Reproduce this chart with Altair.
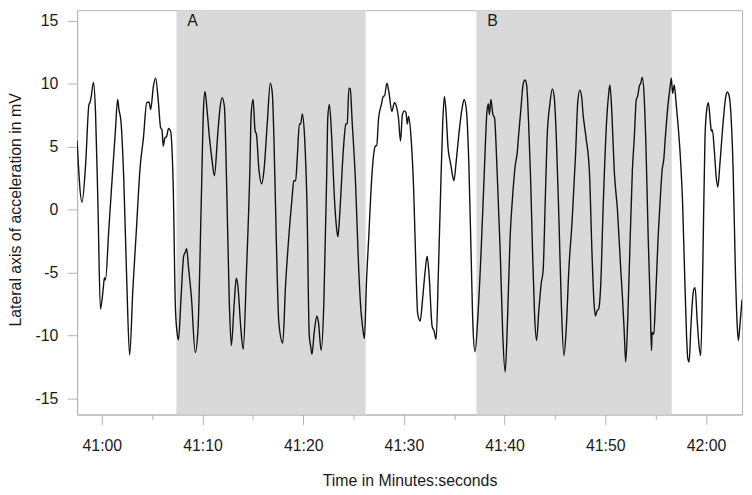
import altair as alt
import pandas as pd

# seconds after 41:00, and lateral acceleration in mV
time_s = [
    -2.46, -1.97, -1.61, -1.28, -1.18, -1.05, -0.83, -0.63, -0.39, -0.14,
    0.13, 0.26, 0.36, 0.69, 1.01, 1.34, 1.57, 1.70, 1.90, 2.17,
    2.49, 2.76, 3.08, 3.41, 3.80, 4.13, 4.46, 4.69, 4.85, 5.12,
    5.34, 5.61, 5.84, 5.97, 6.10, 6.26, 6.43, 6.62, 6.82, 7.09,
    7.31, 7.51, 7.61, 7.87, 8.13, 8.33, 8.42, 8.62, 8.89, 9.28,
    9.55, 9.87, 10.10, 10.24, 10.43, 10.69, 10.95, 11.18, 11.51, 11.74,
    11.94, 12.17, 12.40, 12.66, 12.86, 13.15, 13.35, 13.51, 13.81, 14.04,
    14.37, 14.70, 14.83, 15.02, 15.22, 15.35, 15.61, 15.88, 16.10, 16.44,
    16.73, 16.93, 17.09, 17.32, 17.58, 17.97, 18.24, 18.57, 18.90, 19.06,
    19.25, 19.40, 19.62, 19.75, 19.91, 20.14, 20.37, 20.60, 20.73, 20.87,
    21.09, 21.36, 21.52, 21.78, 22.05, 22.34, 22.44, 22.60, 22.83, 23.09,
    23.33, 23.45, 23.65, 23.98, 24.24, 24.37, 24.54, 24.67, 24.86, 25.20,
    25.46, 25.72, 25.89, 26.08, 26.28, 26.51, 26.77, 27.00, 27.17, 27.30,
    27.49, 27.76, 27.95, 28.08, 28.31, 28.50, 28.80, 29.06, 29.26, 29.46,
    29.66, 29.85, 30.05, 30.21, 30.34, 30.47, 30.71, 30.96, 31.20, 31.36,
    31.62, 31.85, 32.09, 32.31, 32.51, 32.80, 33.00, 33.20, 33.43, 33.66,
    33.86, 34.02, 34.18, 34.38, 34.65, 34.80, 34.97, 35.20, 35.46, 35.79,
    35.98, 36.22, 36.45, 36.67, 36.87, 37.07, 37.33, 37.66, 37.99, 38.25,
    38.39, 38.49, 38.64, 38.84, 39.00, 39.23, 39.57, 39.82, 40.06, 40.29,
    40.55, 40.81, 41.04, 41.27, 41.37, 41.60, 41.86, 42.03, 42.19, 42.38,
    42.58, 42.78, 42.97, 43.17, 43.41, 43.64, 43.83, 44.03, 44.22, 44.49,
    44.74, 44.94, 45.14, 45.40, 45.63, 45.89, 46.12, 46.38, 46.71, 47.05,
    47.27, 47.47, 47.67, 47.77, 48.09, 48.42, 48.68, 48.88, 49.02, 49.17,
    49.34, 49.54, 49.80, 50.13, 50.33, 50.46, 50.66, 50.89, 51.21, 51.54,
    51.70, 51.87, 52.03, 52.23, 52.43, 52.69, 52.88, 53.08, 53.21, 53.41,
    53.51, 53.67, 53.87, 54.06, 54.26, 54.46, 54.59, 54.65, 54.82, 54.98,
    55.25, 55.47, 55.64, 55.81, 55.96, 56.23, 56.46, 56.56, 56.69, 56.85,
    57.02, 57.22, 57.44, 57.68, 57.87, 58.07, 58.20, 58.33, 58.49, 58.69,
    58.79, 58.92, 59.12, 59.31, 59.48, 59.68, 59.90, 60.10, 60.24, 60.43,
    60.53, 60.63, 60.83, 61.02, 61.18, 61.38, 61.71, 61.94, 62.11, 62.27,
    62.46, 62.70, 62.92, 63.09, 63.22, 63.39, 63.58,
]
accel_mv = [
    5.5, 0.6, 3.6, 8.35, 8.5, 9.0, 10.1, 7.8, 0.5, -7.9,
    -6.35, -5.4, -5.6, -1.6, 2.3, 6.2, 8.75, 7.95, 7.0, 2.6,
    -6.1, -11.55, -6.35, -1.9, 3.35, 5.7, 8.5, 8.55, 7.95, 9.8,
    10.45, 8.6, 6.5, 6.35, 5.05, 5.7, 5.8, 6.45, 6.25, 1.8,
    -7.9, -10.0, -10.35, -6.9, -3.7, -3.3, -3.1, -4.7, -6.9, -11.35,
    -9.5, 0.47, 8.1, 9.4, 8.1, 5.7, 3.9, 2.7, 6.0, 8.1,
    8.9, 8.2, 1.8, -7.4, -10.8, -7.4, -5.45, -6.05, -9.5, -11.1,
    -4.8, 3.1, 7.55, 8.75, 6.25, 6.0, 3.1, 2.05, 3.1, 7.0,
    10.05, 9.25, 5.7, -2.15, -9.0, -10.6, -6.1, -2.15, 1.0, 2.3,
    2.3, 4.0, 6.8, 6.8, 7.6, 5.7, 0.5, -10.0, -10.8, -11.5,
    -9.75, -8.45, -9.0, -11.2, -7.4, 3.1, 7.3, 8.35, 5.7, 1.0,
    -1.6, -2.15, -0.05, 4.7, 6.8, 6.85, 9.65, 9.6, 7.0, 2.05,
    -3.7, -7.9, -9.25, -10.25, -5.8, -2.15, 2.05, 4.4, 5.05, 5.1,
    7.3, 8.35, 9.0, 9.05, 10.05, 9.4, 7.8, 8.5, 8.2, 7.3,
    5.45, 7.55, 7.85, 7.7, 6.8, 7.4, 5.7, 1.8, -4.8, -8.2,
    -8.85, -7.15, -5.05, -3.7, -5.3, -9.25, -9.65, -10.3, -4.8, 1.8,
    7.0, 9.0, 7.8, 4.95, 3.6, 2.85, 2.3, 3.9, 6.0, 8.1,
    8.75, 7.8, 3.6, -3.45, -9.5, -11.3, -8.7, -3.45, 3.1, 7.8,
    8.4, 7.55, 8.75, 7.55, 7.3, 3.6, -3.45, -10.0, -12.9, -8.7,
    -2.15, 1.2, 3.4, 4.65, 5.7, 7.8, 10.05, 10.3, 9.9, 7.0,
    2.55, -3.45, -8.2, -10.4, -7.9, -5.85, -4.8, 0.47, 5.7, 8.35,
    9.6, 8.85, 5.7, -0.85, -7.4, -11.6, -9.5, -4.8, -0.85, 4.4,
    8.6, 9.5, 8.85, 7.8, 5.7, 3.1, -3.45, -7.4, -8.45, -8.05,
    -7.9, -6.1, 0.47, 7.0, 9.15, 9.9, 7.55, 3.1, -0.05, -4.8,
    -6.9, -9.5, -12.1, -8.7, -3.45, 3.1, 5.7, 8.75, 9.0, 9.9,
    10.0, 10.5, 8.85, 4.4, -2.15, -7.4, -11.2, -9.75, -9.9, -7.4,
    -2.15, 1.0, 3.1, 4.0, 5.7, 8.35, 9.9, 10.45, 9.25, 9.9,
    8.6, 6.8, 4.4, 0.47, -4.8, -10.0, -11.85, -12.1, -9.5, -6.9,
    -6.35, -6.2, -8.7, -10.8, -11.6, -4.8, 5.7, 8.1, 8.5, 7.0,
    6.25, 6.35, 4.7, 2.55, 1.8, 3.6, 7.0, 8.85, 9.35, 9.15,
    7.8, 3.1, -4.8, -9.0, -10.4, -9.0, -7.15,
]

region_label = ["A", "B"]
region_start = [7.41, 37.2]
region_end = [26.2, 56.6]
label_time = [9.0, 38.8]
label_value = [15.0, 15.0]

x_ticks = [0, 5, 10, 15, 20, 25, 30, 35, 40, 45, 50, 55, 60]
y_ticks = [-15, -10, -5, 0, 5, 10, 15]
x_domain = [-2.46, 63.58]
y_domain = [-16.28, 15.85]

FONT = "Liberation Sans"
GRAY = "#b4b4b4"
TEXT = "#1a1a1a"

line_df = pd.DataFrame({"t": time_s, "v": accel_mv})
regions_df = pd.DataFrame({"start": region_start, "end": region_end})
labels_df = pd.DataFrame({"t": label_time, "v": label_value, "label": region_label})

x_scale = alt.Scale(domain=x_domain, nice=False, zero=False)
y_scale = alt.Scale(domain=y_domain, nice=False, zero=False)

x_axis = alt.Axis(
    values=x_ticks,
    title="Time in Minutes:seconds",
    labelExpr="datum.value % 10 == 0 ? ((datum.value >= 60 ? '42:' : '41:') + format(datum.value % 60, '02d')) : ''",
    tickSize={"condition": {"test": "datum.value % 10 == 0", "value": 10}, "value": 5},
    labelPadding=13.5,
    titleY=72,
    titleBaseline="alphabetic",
    labelFlush=False,
    labelOverlap=False,
)
y_axis = alt.Axis(
    values=y_ticks,
    title="Lateral axis of acceleration in mV",
    labelExpr="'' + datum.value",
    tickSize=10,
    labelPadding=9.4,
    labelAngle=0,
    titleAngle=270,
    titleX=-57.5,
    titleY=201,
    titleBaseline="alphabetic",
    labelFlush=False,
    labelOverlap=False,
)

shade = alt.Chart(regions_df).mark_rect(color="#d9d9d9").encode(
    x=alt.X("start:Q", scale=x_scale, axis=x_axis),
    x2="end:Q",
)

line = alt.Chart(line_df).mark_line(
    color="#111111", strokeWidth=1.4, clip=True, interpolate="monotone"
).encode(
    x=alt.X("t:Q", scale=x_scale, axis=x_axis),
    y=alt.Y("v:Q", scale=y_scale, axis=y_axis),
)

labels = alt.Chart(labels_df).mark_text(
    font=FONT, fontSize=16, color=TEXT, align="center", baseline="middle"
).encode(
    x=alt.X("t:Q", scale=x_scale, axis=x_axis),
    y=alt.Y("v:Q", scale=y_scale, axis=y_axis),
    text="label:N",
)

chart = (
    alt.layer(shade, line, labels)
    .properties(
        width=671,
        height=408,
        autosize=alt.AutoSizeParams(type="none"),
        padding={"left": 69.7, "top": 0, "right": 2, "bottom": 75},
    )
    .configure_view(stroke=GRAY, strokeWidth=1)
    .configure_axis(
        grid=False,
        domainColor=GRAY,
        tickColor=GRAY,
        labelFont=FONT,
        titleFont=FONT,
        labelFontSize=16,
        titleFontSize=16,
        labelColor=TEXT,
        titleColor=TEXT,
        titleFontWeight="normal",
    )
)

chart.save("out.html", embed_options={"renderer": "svg", "actions": False})
